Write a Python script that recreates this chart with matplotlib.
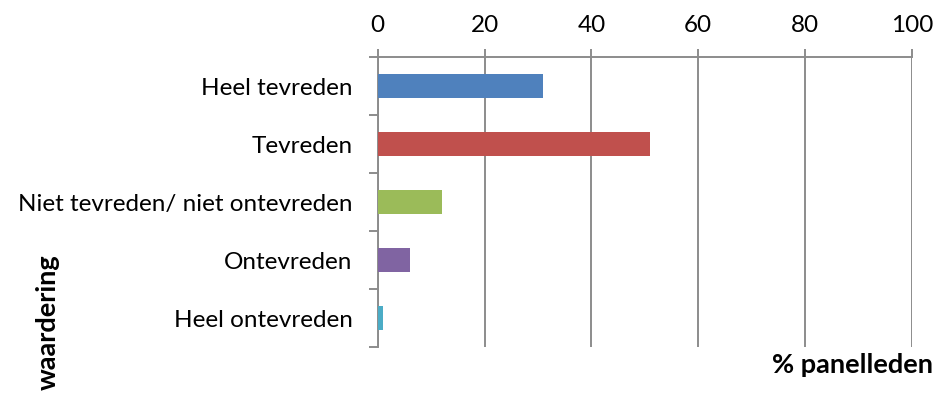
import matplotlib
matplotlib.use('Agg')
import matplotlib.pyplot as plt
import numpy as np

categories = ['Heel tevreden', 'Tevreden', 'Niet tevreden/ niet ontevreden',
              'Ontevreden', 'Heel ontevreden']
values = [31, 51, 12, 6, 1]
colors = ['#4F81BD', '#C0504D', '#9BBB59', '#8064A2', '#4BACC6']
xticks = [0, 20, 40, 60, 80, 100]

plt.rcParams['font.family'] = ['Lato', 'DejaVu Sans']
grid_col = '#8C8C8C'

fig = plt.figure(figsize=(9.39, 3.95), dpi=100)
ax = fig.add_axes([0.4022, 0.1215, 0.569, 0.734])

pos = np.arange(len(categories))
ax.barh(pos, values, height=0.41, color=colors, zorder=3)

ax.set_xlim(0, 100)
ax.set_ylim(len(categories) - 0.5, -0.5)
ax.xaxis.tick_top()
ax.set_xticks(xticks)
ax.set_xticklabels([str(t) for t in xticks], fontsize=17.5)
ax.tick_params(axis='x', length=6, width=1.4, color=grid_col, pad=9)
ax.grid(axis='x', color=grid_col, linewidth=1.4, zorder=0)

ax.set_yticks(pos)
ax.set_yticklabels(categories, fontsize=17.5)
ax.set_yticks(np.arange(len(categories) + 1) - 0.5, minor=True)
ax.tick_params(axis='y', which='major', length=0, pad=18)
ax.tick_params(axis='y', which='minor', length=6.5, width=1.4, color=grid_col)

for s in ['right', 'bottom']:
    ax.spines[s].set_visible(False)
for s in ['top', 'left']:
    ax.spines[s].set_color(grid_col)
    ax.spines[s].set_linewidth(1.4)

fig.text(0.9936, 0.076, '% panelleden', fontsize=19.5, fontweight='bold',
         ha='right', va='center')
fig.text(0.051, 0.0127, 'waardering', fontsize=19.5, fontweight='bold',
         rotation=90, ha='center', va='bottom')

fig.savefig('out.png', dpi=100)
